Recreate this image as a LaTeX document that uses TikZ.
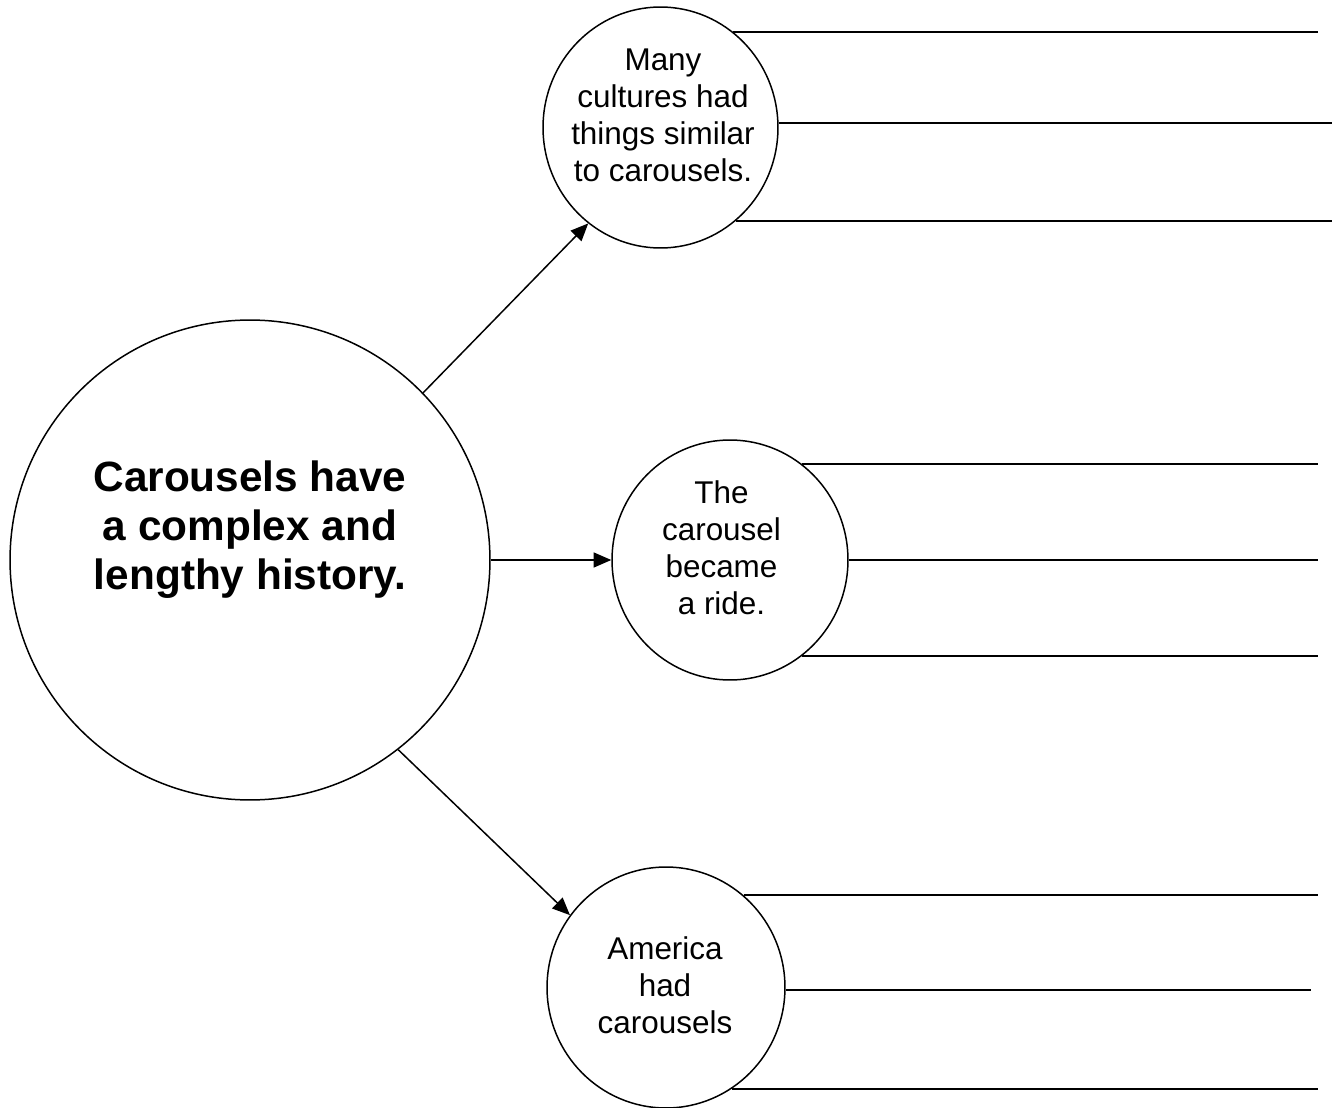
\documentclass[tikz,border=0pt]{standalone}
\usepackage{fontspec}
\setmainfont{Liberation Sans}
\usepackage{tikz}
\usetikzlibrary{arrows.meta,shapes.geometric}
\tikzset{bubble/.style={ellipse,draw,line width=0.85pt,inner sep=0pt}}
\tikzset{txt/.style={anchor=north,inner sep=0pt,align=center,font=\fontsize{17.9}{21.1}\selectfont}}
\tikzset{bigtxt/.style={anchor=north,inner sep=0pt,align=center,font=\bfseries\fontsize{24.1}{27.9}\selectfont}}
\tikzset{arc/.style={line width=0.85pt,-{Triangle[length=10pt,width=8.5pt]}}}
\tikzset{rule/.style={line width=1.1pt}}

\begin{document}
\begin{tikzpicture}[x=0.02cm,y=-0.02cm]
\useasboundingbox (0,0) rectangle (1339,1108);
%main idea
\node (main) at (250,560)[bubble,minimum width=9.6cm,minimum height=9.6cm]{};
\node (maint) at (250,460)[bigtxt]{Carousels have\\a complex and\\lengthy history.};
%details
\node (cult) at (660.5,127.5)[bubble,minimum width=4.7cm,minimum height=4.82cm]{};
\node (cultt) at (663,48.5)[txt]{Many\\cultures had\\things similar\\to carousels.};
\node (ride) at (730,560)[bubble,minimum width=4.72cm,minimum height=4.8cm]{};
\node (ridet) at (721.5,480)[txt]{The\\carousel\\became\\a ride.};
\node (amer) at (666,987.5)[bubble,minimum width=4.76cm,minimum height=4.82cm]{};
\node (amert) at (665,936.5)[txt]{America\\had\\carousels};
%line ends
\coordinate (c1) at (1318,32);
\coordinate (c2) at (1332,123);
\coordinate (c3) at (1332,220);
\coordinate (r1) at (1318,464);
\coordinate (r2) at (1318,560);
\coordinate (r3) at (1318,656);
\coordinate (a1) at (1318,895);
\coordinate (a2) at (1311,991);
\coordinate (a3) at (1318,1088);

\draw[arc] (main.44)--(cult.233);
\draw[arc] (main.east)--(ride.west);
\draw[arc] (main.-52)--(amer.143);

\draw[rule] (cult.53)--(cult.53 -| c1);
\draw[rule] (cult.2)--(cult.2 -| c2);
\draw[rule] (cult.-51)--(cult.-51 -| c3);
\draw[rule] (ride.53.6)--(ride.53.6 -| r1);
\draw[rule] (ride.east)--(ride.east -| r2);
\draw[rule] (ride.-53.6)--(ride.-53.6 -| r3);
\draw[rule] (amer.50.5)--(amer.50.5 -| a1);
\draw[rule] (amer.-1.7)--(amer.-1.7 -| a2);
\draw[rule] (amer.-57)--(amer.-57 -| a3);
\end{tikzpicture}
\end{document}
